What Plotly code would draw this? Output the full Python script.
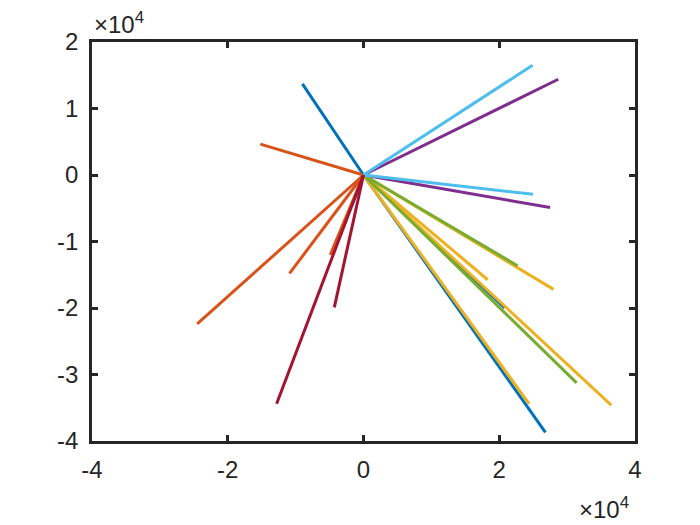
import plotly.graph_objects as go

# end points of the lines (each line starts at the origin)
blue_x = [-9000, -1700, 20800, 26800]
blue_y = [13700, -4500, -20000, -38700]
orange_x = [-15200, -24500, -10900, -4900]
orange_y = [4650, -22400, -14800, -12000]
yellow_x = [28000, 18300, 36500, 24400]
yellow_y = [-17200, -15750, -34600, -34400]
purple_x = [28700, 27500]
purple_y = [14400, -4900]
green_x = [22700, 31400]
green_y = [-13650, -31250]
ltblue_x = [24900, 25000]
ltblue_y = [16500, -2900]
darkred_x = [-12800, -4300]
darkred_y = [-34400, -19900]

series = [
    ("#0072BD", blue_x, blue_y),
    ("#D95319", orange_x, orange_y),
    ("#EDB120", yellow_x, yellow_y),
    ("#7E2F8E", purple_x, purple_y),
    ("#77AC30", green_x, green_y),
    ("#4DBEEE", ltblue_x, ltblue_y),
    ("#A2142F", darkred_x, darkred_y),
]

xticks = [-40000, -20000, 0, 20000, 40000]
xlabels = ["-4", "-2", "0", "2", "4"]
yticks = [-40000, -30000, -20000, -10000, 0, 10000, 20000]
ylabels = ["-4", "-3", "-2", "-1", "0", "1", "2"]

FONT = "Liberation Sans, Arial"

fig = go.Figure()
for color, xs, ys in series:
    px_, py_ = [], []
    for x, y in zip(xs, ys):
        px_ += [0, x, None]
        py_ += [0, y, None]
    fig.add_trace(go.Scatter(x=px_, y=py_, mode="lines",
                             line=dict(color=color, width=3),
                             showlegend=False, hoverinfo="skip"))

axis_style = dict(showline=True, mirror="ticks", linecolor="#262626", linewidth=2.5,
                  ticks="inside", ticklen=6, tickwidth=2.5, tickcolor="#262626",
                  showgrid=False, zeroline=False,
                  tickfont=dict(family=FONT, size=24, color="#262626"))

fig.update_xaxes(range=[-40000, 40000], tickvals=xticks, ticktext=xlabels,
                 ticklabelstandoff=5, **axis_style)
fig.update_yaxes(range=[-40000, 20000], tickvals=yticks, ticktext=ylabels,
                 ticklabelstandoff=6, **axis_style)

fig.add_annotation(text="×10<sup>4</sup>", xref="paper", yref="paper", x=0, y=1,
                   xanchor="left", yanchor="bottom", showarrow=False, yshift=2,
                   font=dict(family=FONT, size=24, color="#262626"))
fig.add_annotation(text="×10<sup>4</sup>", xref="paper", yref="paper", x=1, y=0,
                   xanchor="right", yanchor="top", showarrow=False, yshift=-50, xshift=-4,
                   font=dict(family=FONT, size=24, color="#262626"))

fig.update_layout(width=700, height=525, plot_bgcolor="white", paper_bgcolor="white",
                  margin=dict(l=84, r=73, t=34, b=92))

fig.write_html("out.html")
